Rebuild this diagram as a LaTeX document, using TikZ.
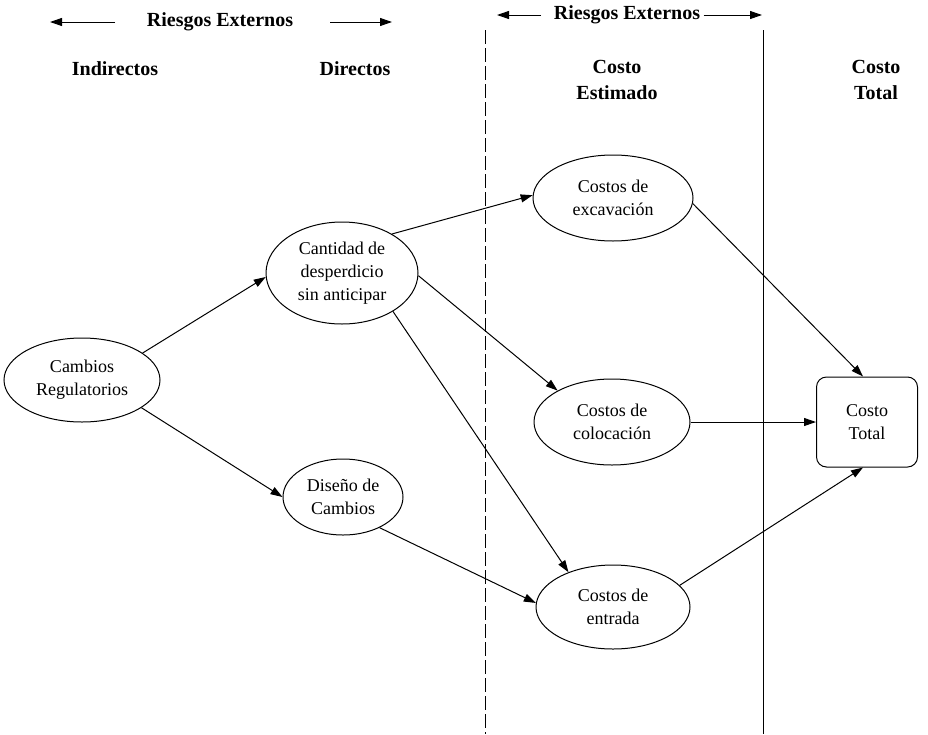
\documentclass[tikz,border=0pt]{standalone}
\usepackage{fontspec}
\setmainfont{Liberation Serif}
\usetikzlibrary{shapes.geometric,arrows.meta}

\begin{document}
\begin{tikzpicture}[x=1pt,y=-1pt]
    \tikzstyle{riesgo}=[ellipse,draw,line width=1pt,inner sep=0pt,align=center,font=\fontsize{18}{23}\selectfont]
    \tikzstyle{total}=[rectangle,draw,line width=1pt,rounded corners=10pt,align=center,minimum width=101pt,minimum height=90pt,font=\fontsize{18}{23}\selectfont]
    \tikzstyle{titulo}=[align=center,font=\bfseries\fontsize{20}{26}\selectfont]
    \tikzstyle{flecha}=[-{Triangle[length=12pt,width=8pt]},line width=1pt]
    \useasboundingbox (0,0) rectangle (928,734);
    % columnas
    \draw[dashed,dash pattern=on 14pt off 4pt] (485,30) -- (485,734);
    \draw[line width=0.7pt] (763,30) -- (763,734);
    % encabezados
    \node[titulo] (riesgoA) at (220,22) {Riesgos Externos};
    \node[titulo] (riesgoB) at (627,15) {Riesgos Externos};
    \coordinate (riesgoAl) at (50,22);  \coordinate (riesgoAl0) at (115,22);
    \coordinate (riesgoAr) at (392,22); \coordinate (riesgoAr0) at (330,22);
    \coordinate (riesgoBl) at (497,15); \coordinate (riesgoBl0) at (541,15);
    \coordinate (riesgoBr) at (762,15);
    \draw[flecha] (riesgoAl0) -- (riesgoAl);
    \draw[flecha] (riesgoAr0) -- (riesgoAr);
    \draw[flecha] (riesgoBl0) -- (riesgoBl);
    \draw[flecha] (riesgoB.east) -- (riesgoBr);
    \node[titulo] (indirectos) at (115,69) {Indirectos};
    \node[titulo] (directos) at (355,69) {Directos};
    \node[titulo] (estimado) at (617,80) {Costo\\Estimado};
    \node[titulo] (costoT) at (876,80) {Costo\\Total};
    % nodos
    \node[riesgo,minimum width=156pt,minimum height=84pt] (cambios) at (82,380) {Cambios\\Regulatorios};
    \node[riesgo,minimum width=152pt,minimum height=102pt] (cantidad) at (342,273) {Cantidad de\\desperdicio\\sin anticipar};
    \node[riesgo,minimum width=120pt,minimum height=76pt] (diseno) at (343,497) {Diseño de\\Cambios};
    \node[riesgo,minimum width=160pt,minimum height=86pt] (excavacion) at (613,198) {Costos de\\excavación};
    \node[riesgo,minimum width=156pt,minimum height=86pt] (colocacion) at (612,422) {Costos de\\colocación};
    \node[riesgo,minimum width=154pt,minimum height=84pt] (entrada) at (613,607) {Costos de\\entrada};
    \node[total] (total) at (867,422) {Costo\\Total};
    % conexiones
    \draw[flecha] (cambios.24) -- (cantidad.183);
    \draw[flecha] (cambios.335) -- (diseno.180);
    \draw[flecha] (cantidad.38) -- (excavacion.178);
    \draw[flecha] (cantidad.358) -- (colocacion.150);
    \draw[flecha] (cantidad.323) -- (entrada.142);
    \draw[flecha] (diseno.320) -- (entrada.177);
    \draw[flecha] (excavacion.356) -- ([xshift=-4pt]total.north);
    \draw[flecha] (colocacion.east) -- (total.west);
    \draw[flecha] (entrada.18) -- ([xshift=-4pt]total.south);
\end{tikzpicture}
\end{document}
